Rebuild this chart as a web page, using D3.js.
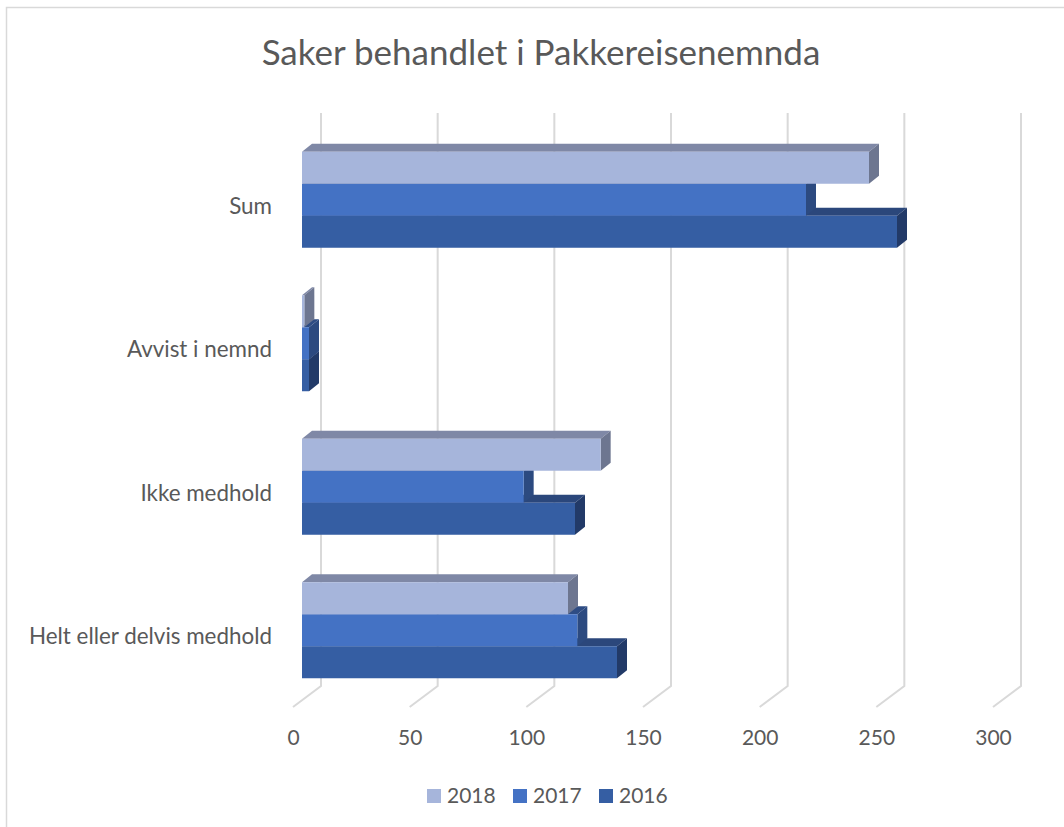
<!DOCTYPE html>
<html>
<head>
<meta charset="utf-8">
<script src="https://cdn.jsdelivr.net/npm/d3@7"></script>
<style>
  body { margin: 0; background: #fff; }
  svg { display: block; font-family: Lato, "Open Sans", sans-serif; }
</style>
</head>
<body>
<div id="chart"></div>
<script>
// categories top -> bottom, as drawn
const categories = ["Sum", "Avvist i nemnd", "Ikke medhold", "Helt eller delvis medhold"];
const seriesNames = ["2018", "2017", "2016"];
const values2018 = [243, 1, 128, 114];
const values2017 = [216, 3, 95, 118];
const values2016 = [255, 3, 117, 135];
const xTicks = [0, 50, 100, 150, 200, 250, 300];

const colors = {
  "2018": { front: "#A6B5DB", top: "#7F88A6", side: "#6D7690" },
  "2017": { front: "#4472C4", top: "#2E4C84", side: "#2C4A80" },
  "2016": { front: "#355EA3", top: "#2B477B", side: "#223A68" }
};

const width = 1064, height = 827;

// 3d offsets (oblique projection)
const wall = { dx: 28, dy: -21 };   // back wall relative to front plane
const barOff = { dx: 9, dy: -7 };   // bar front face relative to front plane
const barDepth = { dx: 10, dy: -8 };

const svg = d3.select("#chart").append("svg")
  .attr("width", width)
  .attr("height", height)
  .attr("viewBox", `0 0 ${width} ${height}`);

// chart border
svg.append("rect")
  .attr("x", 6.5).attr("y", 7.5)
  .attr("width", width + 20).attr("height", height + 20)
  .attr("fill", "#fff")
  .attr("stroke", "#d9d9d9")
  .attr("stroke-width", 1.5);

svg.append("text")
  .attr("x", 541).attr("y", 65)
  .attr("text-anchor", "middle")
  .attr("fill", "#595959")
  .style("font-size", "35px")
  .text("Saker behandlet i Pakkereisenemnda");

// front plane scales
const x = d3.scaleLinear().domain([0, 300]).range([293, 993]);
const y = d3.scaleBand().domain(categories).range([135, 709])
  .paddingInner(0.331).paddingOuter(0.1655);
const ys = d3.scaleBand().domain(seriesNames).range([0, y.bandwidth()]);

const floorY = 707;
const wallTop = 113;

// gridlines: back wall + floor
const grid = svg.append("g")
  .attr("stroke", "#d9d9d9")
  .attr("stroke-width", 2)
  .attr("fill", "none");

grid.selectAll("path")
  .data(xTicks)
  .join("path")
  .attr("d", d => {
    const xb = x(d) + wall.dx;
    return `M${xb},${wallTop}L${xb},${floorY + wall.dy}L${x(d)},${floorY}`;
  });

// bars
const data = [];
categories.forEach((c, i) => {
  // draw lower series first so upper bars cover hidden faces
  data.push({ cat: c, s: "2016", v: values2016[i] });
  data.push({ cat: c, s: "2017", v: values2017[i] });
  data.push({ cat: c, s: "2018", v: values2018[i] });
});

const bars = svg.append("g")
  .selectAll("g")
  .data(data)
  .join("g");

const geo = d => {
  const xl = x(0) + barOff.dx;
  const xr = x(d.v) + barOff.dx;
  const yt = y(d.cat) + ys(d.s) + barOff.dy;
  const h = ys.bandwidth();
  return { xl, xr, yt, h };
};

bars.append("path")
  .attr("fill", d => colors[d.s].top)
  .attr("d", d => {
    const g = geo(d);
    return `M${g.xl},${g.yt}L${g.xl + barDepth.dx},${g.yt + barDepth.dy}L${g.xr + barDepth.dx},${g.yt + barDepth.dy}L${g.xr},${g.yt}Z`;
  });

bars.append("path")
  .attr("fill", d => colors[d.s].side)
  .attr("d", d => {
    const g = geo(d);
    return `M${g.xr},${g.yt}L${g.xr + barDepth.dx},${g.yt + barDepth.dy}L${g.xr + barDepth.dx},${g.yt + g.h + barDepth.dy}L${g.xr},${g.yt + g.h}Z`;
  });

bars.append("rect")
  .attr("fill", d => colors[d.s].front)
  .attr("x", d => geo(d).xl)
  .attr("y", d => geo(d).yt)
  .attr("width", d => geo(d).xr - geo(d).xl)
  .attr("height", d => geo(d).h);

// axes
const xAxis = svg.append("g")
  .attr("transform", `translate(0,${floorY})`)
  .call(d3.axisBottom(x).tickValues(xTicks).tickSize(0).tickPadding(23));
xAxis.select(".domain").remove();
xAxis.selectAll("text")
  .attr("fill", "#595959")
  .style("font-size", "21px")
  .style("font-family", "Lato, sans-serif");

const yAxis = svg.append("g")
  .attr("transform", "translate(272,0)")
  .call(d3.axisLeft(y).tickSize(0).tickPadding(0));
yAxis.select(".domain").remove();
yAxis.selectAll("text")
  .attr("fill", "#595959")
  .style("font-size", "22.4px")
  .style("font-family", "Lato, sans-serif");

// legend
const legend = svg.append("g")
  .attr("transform", "translate(427,789)")
  .selectAll("g")
  .data(seriesNames)
  .join("g")
  .attr("transform", (d, i) => `translate(${[0, 86, 172][i]},0)`);

legend.append("rect")
  .attr("width", 14).attr("height", 14)
  .attr("fill", d => colors[d].front);

legend.append("text")
  .attr("x", 20).attr("y", 7)
  .attr("dy", "0.35em")
  .attr("fill", "#595959")
  .style("font-size", "21px")
  .text(d => d);
</script>
</body>
</html>
